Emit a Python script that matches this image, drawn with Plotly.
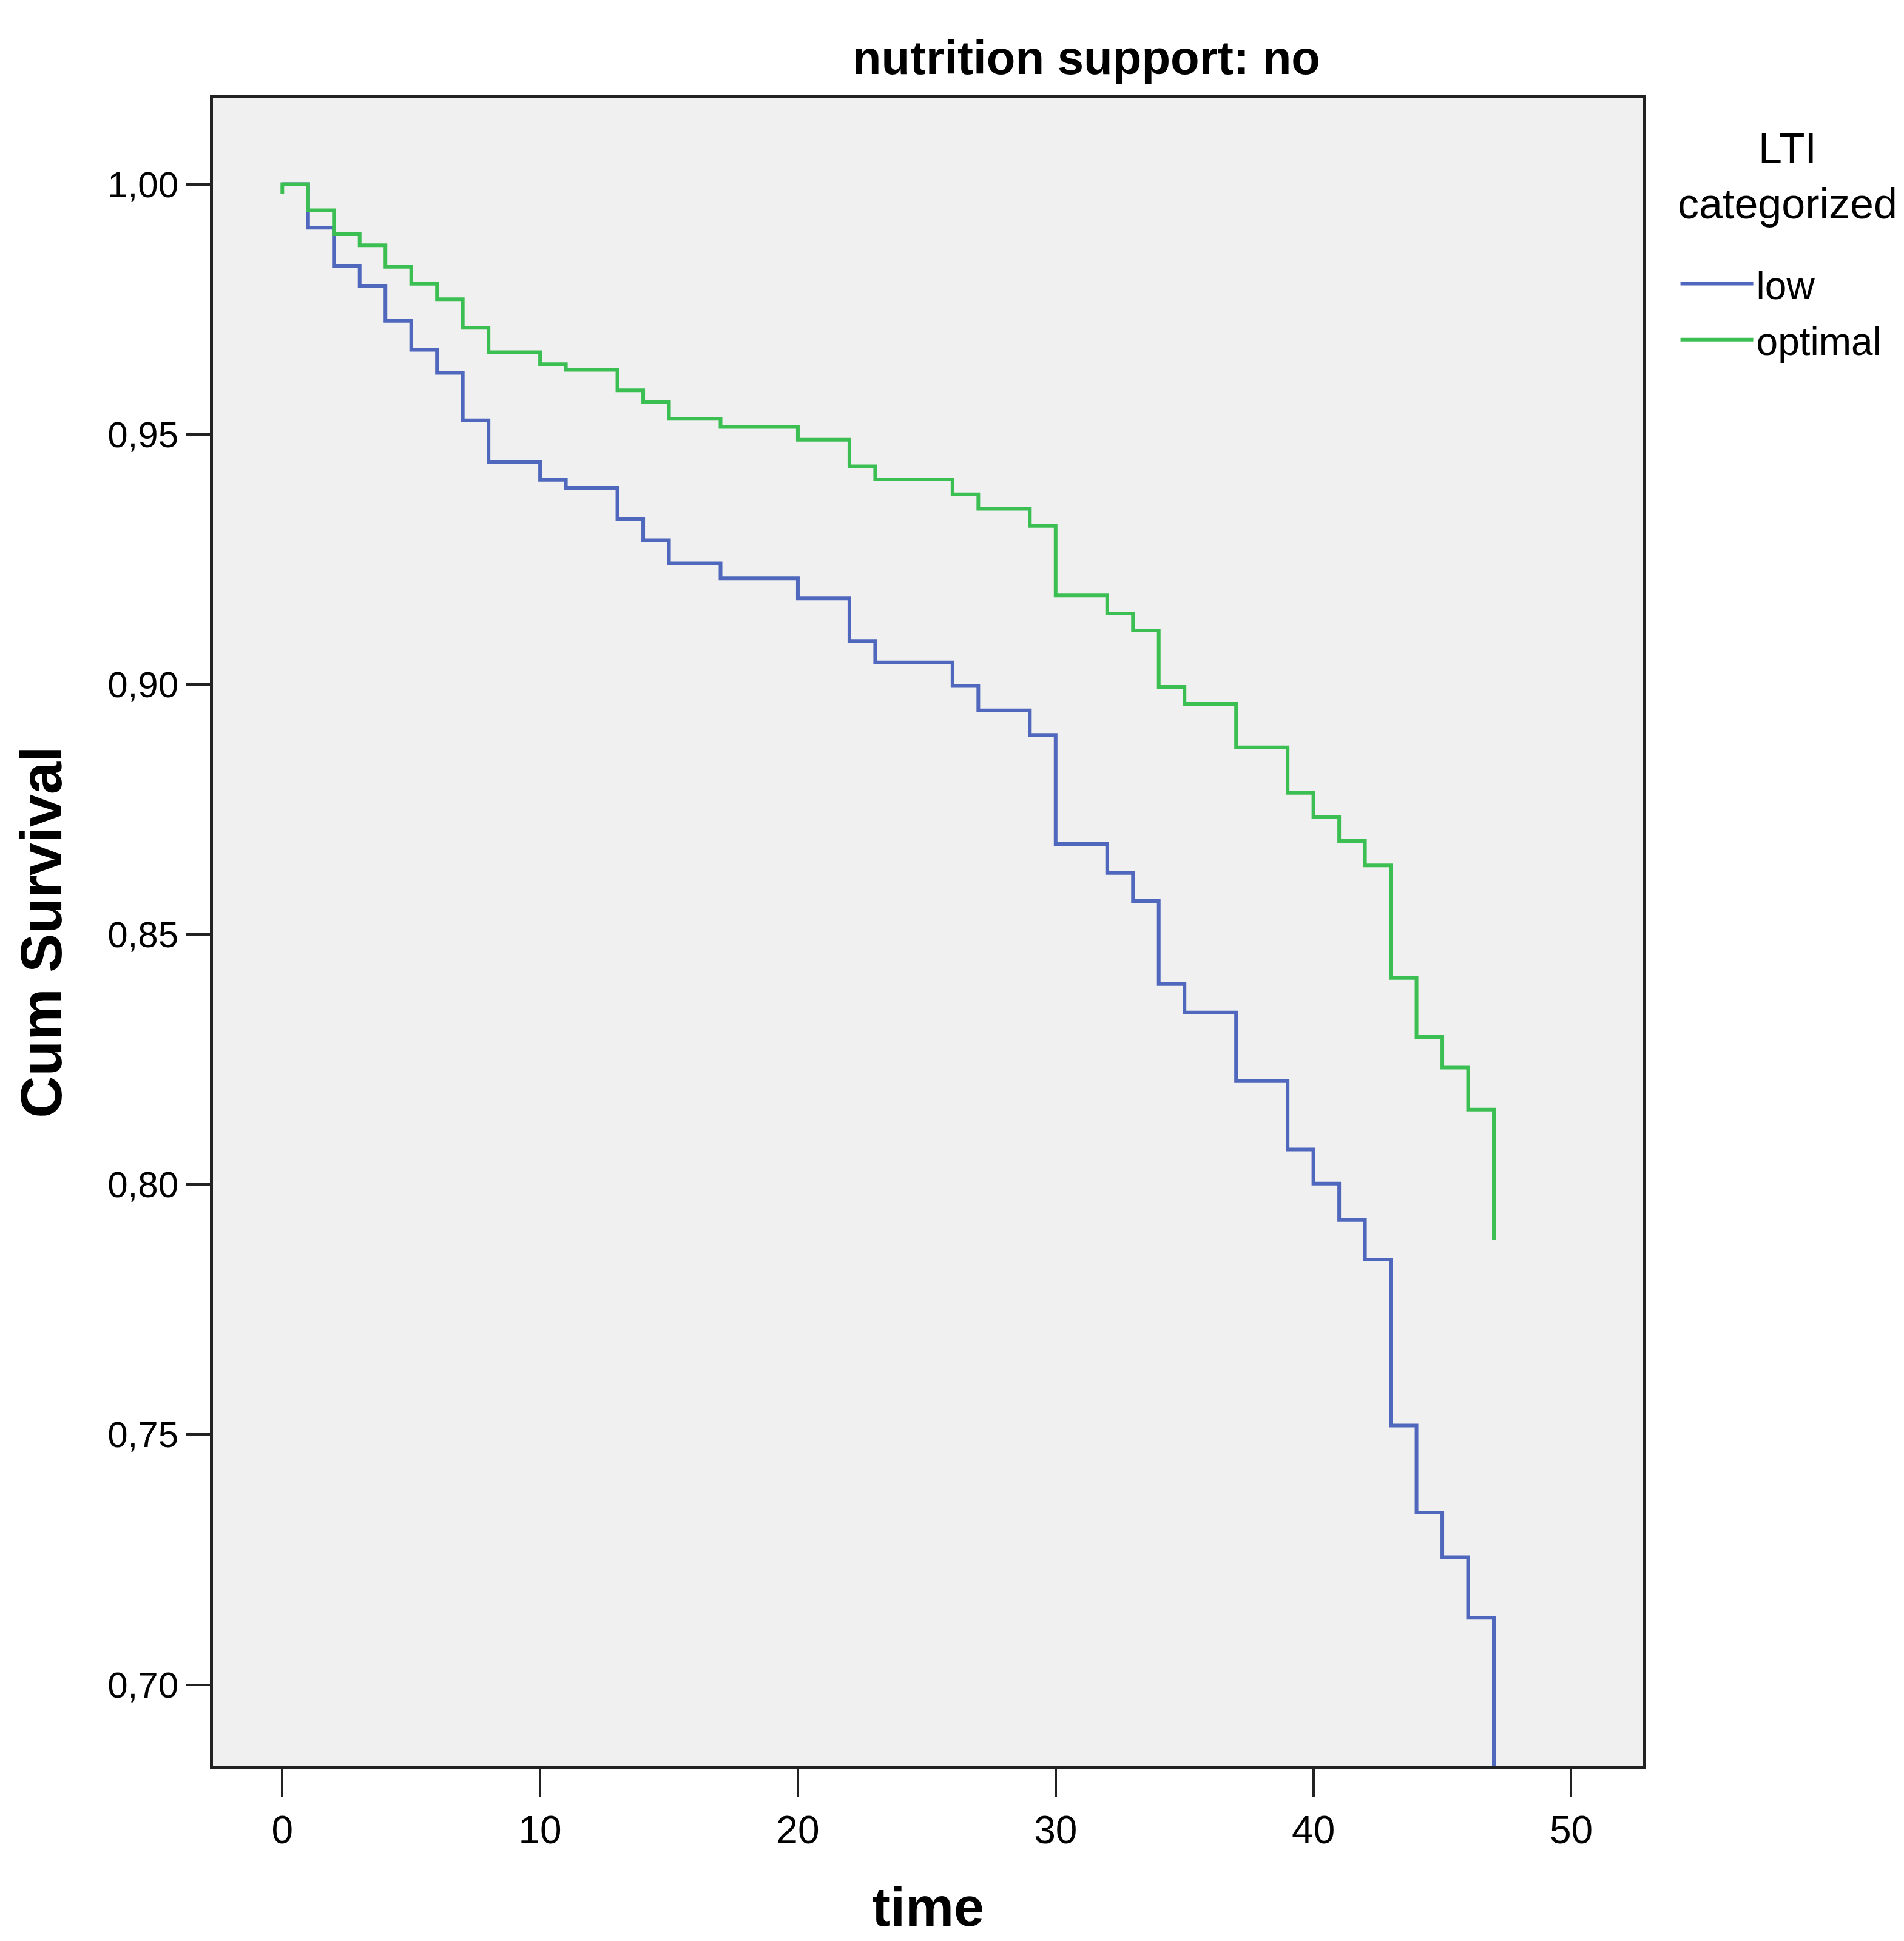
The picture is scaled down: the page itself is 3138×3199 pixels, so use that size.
import plotly.graph_objects as go

# ---- data (Kaplan-Meier step values) ----
time_low = [0, 1, 2, 3, 4, 5, 6, 7, 8, 10, 11, 13, 14, 15, 17, 20, 22, 23, 26, 27, 29,
            30, 32, 33, 34, 35, 37, 39, 40, 41, 42, 43, 44, 45, 46, 47]
surv_low = [1.000, 0.9913, 0.9837, 0.9797, 0.9727, 0.9669, 0.9623, 0.9528, 0.9445, 0.9409,
            0.9393, 0.9331, 0.9288, 0.9242, 0.9212, 0.9172, 0.9087, 0.9044, 0.8997, 0.8948,
            0.8899, 0.8681, 0.8623, 0.8567, 0.8401, 0.8344, 0.8207, 0.8070, 0.8002, 0.7929,
            0.7850, 0.7518, 0.7344, 0.7255, 0.7134, 0.6800]

time_opt = [0, 0, 1, 2, 3, 4, 5, 6, 7, 8, 10, 11, 13, 14, 15, 17, 20, 22, 23, 26, 27, 29,
            30, 32, 33, 34, 35, 37, 39, 40, 41, 42, 43, 44, 45, 46, 47]
surv_opt = [0.998, 1.000, 0.9948, 0.9900, 0.9878, 0.9835, 0.9801, 0.9770, 0.9713, 0.9664,
            0.9640, 0.9629, 0.9588, 0.9564, 0.9531, 0.9515, 0.9489, 0.9436, 0.9410, 0.9380,
            0.9351, 0.9317, 0.9178, 0.9142, 0.9108, 0.8995, 0.8961, 0.8874, 0.8783, 0.8735,
            0.8687, 0.8638, 0.8413, 0.8295, 0.8234, 0.8150, 0.7889]

series_names = ["low", "optimal"]
legend_title = "LTI<br>categorized"
x_ticks = [0, 10, 20, 30, 40, 50]
y_ticks = [0.70, 0.75, 0.80, 0.85, 0.90, 0.95, 1.00]

BLUE = "#4F67BC"
GREEN = "#3CBF52"
FONT = "Liberation Sans, Arial, sans-serif"
NARROW = "Liberation Sans Narrow, Liberation Sans, Arial, sans-serif"

fig = go.Figure()
fig.add_trace(go.Scatter(x=time_low, y=surv_low, mode="lines", name=series_names[0],
                         legendgroup="low",
                         line=dict(color=BLUE, width=6, shape="hv")))
fig.add_trace(go.Scatter(x=time_opt, y=surv_opt, mode="lines", name=series_names[1],
                         legendgroup="opt",
                         line=dict(color=GREEN, width=6, shape="hv")))

fig.update_layout(
    width=3138, height=3199,
    margin=dict(l=343, r=438, t=153, b=296),
    paper_bgcolor="white",
    plot_bgcolor="#F0F0F0",
    separators=",.",
    font=dict(family=FONT, color="black", size=58),
    title=dict(text="<b>nutrition support: no</b>", x=0.568, xanchor="center",
               y=0.973, yanchor="middle",
               font=dict(family=NARROW, size=78, color="black")),
    legend=dict(
        x=1.024, xanchor="left", y=0.906, yanchor="top",
        bgcolor="rgba(0,0,0,0)",
        font=dict(family=NARROW, size=64, color="black"),
        tracegroupgap=6,
        itemwidth=120,
    ),
    showlegend=True,
    annotations=[dict(
        text=legend_title, xref="paper", yref="paper",
        x=1.101, y=0.953, xanchor="center", yanchor="middle",
        align="center", showarrow=False,
        font=dict(family=FONT, size=70, color="black"),
    )],
)

fig.update_xaxes(
    range=[-2.69, 52.79],
    tickvals=x_ticks,
    ticks="outside", ticklen=45, tickwidth=4, tickcolor="#222",
    tickfont=dict(family=NARROW, size=64, color="black"),
    showgrid=False, zeroline=False,
    showline=True, mirror=True, linecolor="#222", linewidth=5,
    title=dict(text="<b>time</b>", standoff=62,
               font=dict(family=NARROW, size=90, color="black")),
    automargin=False,
)
fig.update_yaxes(
    range=[0.6837, 1.0173],
    tickvals=y_ticks, tickformat=".2f",
    ticks="outside", ticklen=40, tickwidth=4, tickcolor="#222",
    tickfont=dict(family=FONT, size=60, color="black"),
    showgrid=False, zeroline=False,
    showline=True, mirror=True, linecolor="#222", linewidth=5,
    title=dict(text="<b>Cum Survival</b>", standoff=45,
               font=dict(family=FONT, size=96, color="black")),
    automargin=False,
)

fig.write_html("out.html")
